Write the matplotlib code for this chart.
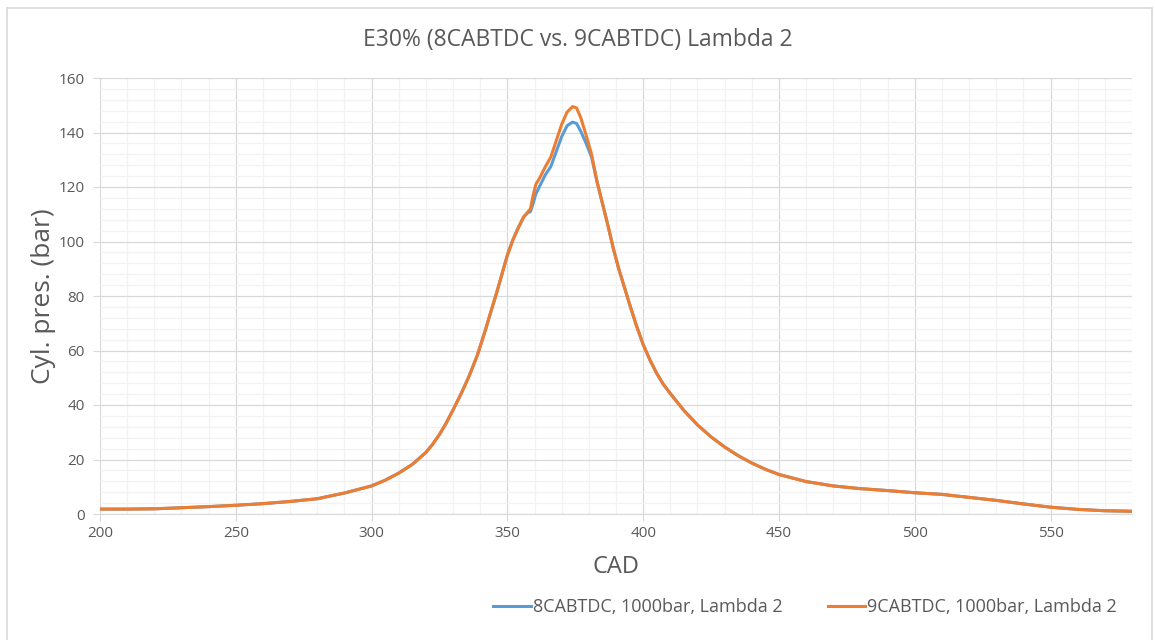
import numpy as np
import matplotlib.pyplot as plt
from matplotlib.ticker import MultipleLocator
from matplotlib.lines import Line2D

plt.rcParams['font.family'] = ['Open Sans', 'DejaVu Sans']

# crank angle (deg) and cylinder pressure (bar)
cad = [200, 210, 220, 230, 240, 250, 260, 270, 280, 290, 300, 305, 310, 315,
       320, 322.5, 325, 327.5, 330, 333, 336, 339, 342, 344, 346, 348, 350, 352, 354, 356, 357.5, 358.5,
       359.5, 360.5, 362, 364, 366, 368, 370, 372, 374, 375.5, 377, 379, 381,
       383, 385, 387, 389, 391, 393, 395, 397.5, 400, 402.5, 405, 407.5, 410, 415, 420, 425, 430, 435, 440,
       445, 450, 460, 470, 480, 490, 500, 510, 520, 530, 540, 550, 560, 570, 580]

p_8cab = [1.8, 1.8, 1.9, 2.3, 2.7, 3.2, 3.8, 4.6, 5.6, 7.7, 10.3, 12.4, 15, 18.2,
          22.6, 25.6, 29.2, 33.4, 38.2, 44.2, 50.8, 58.4, 67.8, 74.5, 81, 88, 95, 100.5, 105, 109, 110.5, 111,
          114, 117.5, 120.5, 124.5, 127.5, 133, 138.5, 142.5, 143.8, 143.3, 140.5, 136, 131,
          122, 114, 106, 97.5, 90, 83.5, 77, 69.2, 62.2, 56.5, 51.6, 47.5, 44.2, 38, 32.7, 28.3, 24.6, 21.4, 18.7,
          16.4, 14.5, 11.9, 10.3, 9.3, 8.6, 7.8, 7.2, 6.1, 5.0, 3.7, 2.5, 1.7, 1.2, 1.0]

p_9cab = [1.8, 1.8, 1.9, 2.3, 2.7, 3.2, 3.8, 4.6, 5.6, 7.7, 10.3, 12.4, 15, 18.2,
          22.6, 25.6, 29.2, 33.4, 38.2, 44.2, 50.8, 58.4, 67.8, 74.5, 81, 88, 95, 100.5, 105, 109, 110.8, 112,
          117, 121, 123.5, 127.5, 131, 137, 143, 147.5, 149.5, 149, 145.5, 139, 132,
          122, 114, 106, 97.5, 90, 83.5, 77, 69.2, 62.2, 56.5, 51.6, 47.5, 44.2, 38, 32.7, 28.3, 24.6, 21.4, 18.7,
          16.4, 14.5, 11.9, 10.3, 9.3, 8.6, 7.8, 7.2, 6.1, 5.0, 3.7, 2.5, 1.7, 1.2, 1.0]

blue = "#5B9BD5"
orange = "#ED7D31"
txt = "#595959"

fig = plt.figure(figsize=(11.55, 6.4), dpi=100)
ax = fig.add_axes([100 / 1155, 1 - 514 / 640, 1032 / 1155, 436 / 640])

ax.plot(cad, p_8cab, color=blue, lw=2.2, label="8CABTDC, 1000bar, Lambda 2", zorder=3)
ax.plot(cad, p_9cab, color=orange, lw=2.2, label="9CABTDC, 1000bar, Lambda 2", zorder=4)

ax.set_xlim(200, 580)
ax.set_ylim(0, 160)
ax.xaxis.set_major_locator(MultipleLocator(50))
ax.xaxis.set_minor_locator(MultipleLocator(10))
ax.yaxis.set_major_locator(MultipleLocator(20))
ax.yaxis.set_minor_locator(MultipleLocator(4))
ax.grid(which="major", color="#D9D9D9", lw=0.9)
ax.grid(which="minor", color="#F2F2F2", lw=0.9)
ax.set_axisbelow(True)
for s in ax.spines.values():
    s.set_visible(False)
ax.spines["bottom"].set_visible(True)
ax.spines["bottom"].set_color("#D9D9D9")
ax.tick_params(which="major", length=5, color="#D9D9D9", labelcolor=txt, labelsize=11)
ax.tick_params(which="minor", length=0)
ax.tick_params(axis="y", pad=6)

ax.set_xlabel("CAD", fontsize=17, color=txt, labelpad=10)
ax.set_ylabel("Cyl. pres. (bar)", fontsize=19, color=txt, labelpad=2)
fig.text(0.5, 1 - 40 / 640, "E30% (8CABTDC vs. 9CABTDC) Lambda 2",
         ha="center", va="center", fontsize=16.5, color=txt)

handles = [Line2D([], [], color=blue, lw=2.2), Line2D([], [], color=orange, lw=2.2)]
fig.legend(handles, [p.get_label() for p in ax.lines[:2]], loc="center",
           bbox_to_anchor=(805 / 1155, 1 - 607 / 640), ncol=2, frameon=False,
           fontsize=13, labelcolor=txt, handlelength=2.1, handletextpad=0.1,
           columnspacing=2.5)

# chart frame
frame = dict(color="#D9D9D9", lw=1.2, transform=fig.transFigure)
fig.add_artist(Line2D([7 / 1155, 7 / 1155], [0, 1 - 8 / 640], **frame))
fig.add_artist(Line2D([7 / 1155, 1152 / 1155], [1 - 8 / 640, 1 - 8 / 640], **frame))
fig.add_artist(Line2D([1152 / 1155, 1152 / 1155], [0, 1 - 8 / 640], **frame))

fig.savefig("out.png", dpi=100)
